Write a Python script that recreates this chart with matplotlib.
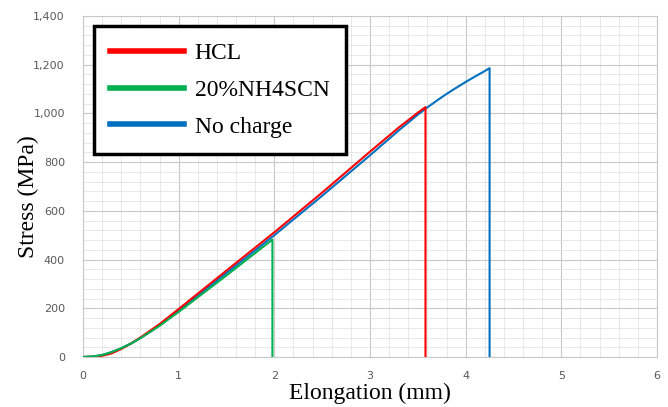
import matplotlib
matplotlib.use("Agg")
import matplotlib.pyplot as plt
from matplotlib.ticker import MultipleLocator, FuncFormatter

# data (elongation mm, stress MPa)
nocharge_x = [0, 0.1, 0.2, 0.3, 0.4, 0.5, 0.6, 0.7, 0.8, 1.0, 1.5, 2.0, 2.5, 3.0, 3.3,
              3.5, 3.6, 3.7, 3.8, 3.9, 4.0, 4.1, 4.2, 4.25, 4.25]
nocharge_y = [0, 2, 8, 20, 36, 55, 78, 103, 130, 190, 345, 500, 662, 828, 930,
              995, 1025, 1053, 1080, 1105, 1129, 1152, 1174, 1186, 0]

hcl_x = [0, 0.1, 0.2, 0.3, 0.4, 0.5, 0.6, 0.8, 1.0, 1.5, 2.0, 2.5, 3.0, 3.3, 3.5, 3.58, 3.58]
hcl_y = [0, 1, 5, 15, 33, 55, 80, 135, 197, 355, 512, 675, 843, 942, 1003, 1026, 0]

nh4_x = [0, 0.1, 0.2, 0.3, 0.4, 0.5, 0.6, 0.8, 1.0, 1.5, 1.98, 1.98]
nh4_y = [0, 2, 8, 20, 36, 55, 77, 128, 185, 335, 482, 0]

labels = ["HCL", "20%NH4SCN", "No charge"]
colors = ["#ff0000", "#00b050", "#0070c0"]

fig = plt.figure(figsize=(6.68, 4.07), dpi=100)
ax = fig.add_axes([83 / 668, 1 - 357 / 407, 574 / 668, 341 / 407])

ax.plot(hcl_x, hcl_y, color=colors[0], lw=1.5, label=labels[0], zorder=3)
ax.plot(nh4_x, nh4_y, color=colors[1], lw=1.5, label=labels[1], zorder=3)
ax.plot(nocharge_x, nocharge_y, color=colors[2], lw=1.5, label=labels[2], zorder=2)

ax.set_xlim(0, 6)
ax.set_ylim(0, 1400)
ax.xaxis.set_major_locator(MultipleLocator(1))
ax.xaxis.set_minor_locator(MultipleLocator(0.2))
ax.yaxis.set_major_locator(MultipleLocator(200))
ax.yaxis.set_minor_locator(MultipleLocator(40))
ax.yaxis.set_major_formatter(FuncFormatter(lambda v, p: f"{int(v):,}"))
ax.grid(which="major", color="#c8c8c8", lw=0.8)
ax.grid(which="minor", color="#e4e4e4", lw=0.6)
ax.set_axisbelow(True)
ax.tick_params(which="both", length=0, labelsize=8, colors="#595959")
ax.tick_params(axis="x", pad=10)
ax.tick_params(axis="y", pad=13)
for s in ax.spines.values():
    s.set_color("#c8c8c8")
    s.set_linewidth(0.8)

ax.set_xlabel("Elongation (mm)", family="Liberation Serif", fontsize=17)
ax.xaxis.set_label_coords(0.5, -0.077)
ax.set_ylabel("Stress (MPa)", family="Liberation Serif", fontsize=17)
ax.yaxis.set_label_coords(-0.077, 0.47)

leg = ax.legend(loc="upper left", bbox_to_anchor=(0.019, 0.971), fancybox=False,
                framealpha=1, edgecolor="black", handlelength=3.1, handletextpad=0.47,
                labelspacing=0.65, borderpad=0.7, borderaxespad=0,
                prop={"family": "Liberation Serif", "size": 17})
leg.get_frame().set_linewidth(2.5)
for h in leg.get_lines():
    h.set_linewidth(4)

fig.savefig("out.png", dpi=100)
